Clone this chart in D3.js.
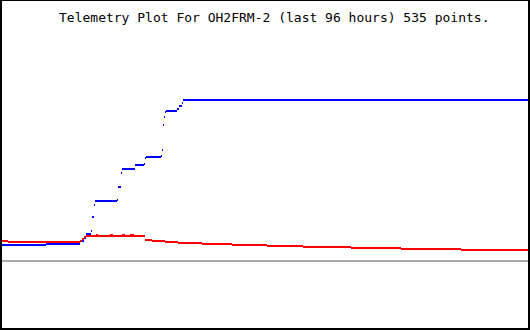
<!DOCTYPE html>
<html>
<head>
<meta charset="utf-8">
<script src="https://cdn.jsdelivr.net/npm/d3@7"></script>
<style>
  html, body { margin: 0; padding: 0; background: #fff; }
  svg { display: block; }
</style>
</head>
<body>
<script>
// ---- data (hours relative to now, telemetry value above baseline) ----
const title = "Telemetry Plot For OH2FRM-2 (last 96 hours) 535 points.";
const timeDomain = [-96, 0];

// Blue series: runs of constant value [startHour, endHour]
const blueStart = [-96.00, -87.97, -81.76, -81.03, -80.67, -79.76, -79.58, -79.22, -79.04, -75.01, -74.83, -74.28, -74.10, -71.73, -70.08, -69.90, -69.71, -66.98, -66.80, -66.62, -66.43, -66.25, -66.07, -64.06, -63.70, -63.15, -62.97];
const blueEnd   = [-87.97, -81.76, -81.03, -80.67, -79.76, -79.58, -79.22, -79.04, -75.01, -74.83, -74.28, -74.10, -71.73, -70.08, -69.90, -69.71, -66.98, -66.80, -66.62, -66.43, -66.25, -66.07, -64.06, -63.70, -63.15, -62.97, 0.00];
const blueValue = [16, 17, 20, 23, 27, 30, 44, 56, 60, 61, 74, 88, 92, 96, 97, 103, 104, 105, 111, 136, 144, 149, 150, 152, 155, 158, 161];

// Red series: runs of constant value
const redStart = [-96.00, -94.90, -81.76, -81.40, -81.03, -80.67, -78.84, -76.28, -74.10, -72.64, -69.90, -68.62, -66.25, -63.88, -59.50, -54.02, -47.63, -41.06, -32.30, -23.18, -12.23];
const redEnd   = [-94.90, -81.76, -81.40, -81.03, -80.67, -69.90, -78.47, -75.74, -73.55, -71.91, -68.62, -66.25, -63.88, -59.50, -54.02, -47.63, -41.06, -32.30, -23.18, -12.23, 0.00];
const redValue = [20, 19, 20, 22, 24, 25, 26, 26, 26, 26, 21, 20, 19, 18, 17, 16, 15, 14, 13, 12, 11];

const baselineValue = 0;

// ---- drawing ----
const W = 530, H = 330;
const svg = d3.select("body").append("svg").attr("width", W).attr("height", H)
  .attr("shape-rendering", "crispEdges");

svg.append("rect").attr("width", W).attr("height", H).attr("fill", "#fff");

const x = d3.scaleLinear().domain(timeDomain).range([2, 528]);
const y = d3.scaleLinear().domain([0, 260]).range([261, 1]);

// baseline
svg.append("rect")
  .attr("x", 1).attr("width", 527)
  .attr("y", y(baselineValue) - 1).attr("height", 2)
  .attr("fill", "#aaaaaa");

function runs(starts, ends, vals) {
  return starts.map((s, i) => ({ s, e: ends[i], v: vals[i] }));
}

function drawRuns(data, color) {
  svg.append("g").selectAll("rect").data(data).join("rect")
    .attr("x", d => Math.round(x(d.s)))
    .attr("width", d => Math.max(1, Math.round(x(d.e)) - Math.round(x(d.s))))
    .attr("y", d => Math.round(y(d.v)) - 1)
    .attr("height", 2)
    .attr("fill", color);
}

drawRuns(runs(blueStart, blueEnd, blueValue), "#0000ff");
drawRuns(runs(redStart, redEnd, redValue), "#ff0000");

// title
svg.append("text")
  .attr("x", 59).attr("y", 22)
  .attr("font-family", "'DejaVu Sans Mono', monospace")
  .attr("font-size", 13)
  .attr("fill", "#000")
  .text(title);

// frame
svg.append("rect")
  .attr("x", 1).attr("y", 0).attr("width", 528).attr("height", 329)
  .attr("fill", "none").attr("stroke", "#000").attr("stroke-width", 2);
</script>
</body>
</html>
